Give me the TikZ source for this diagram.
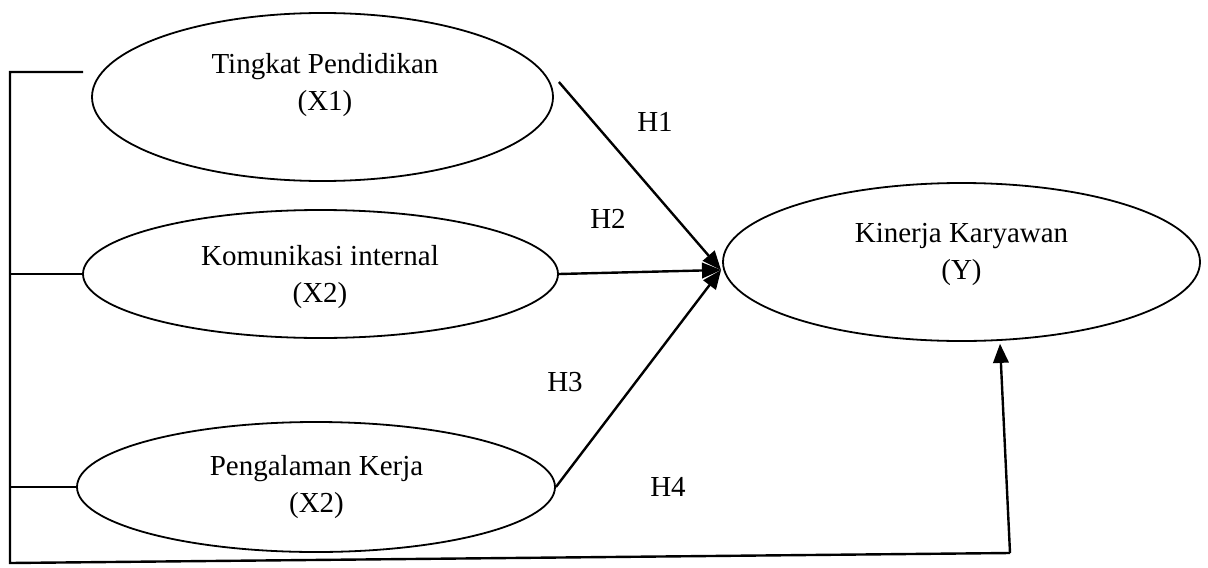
\documentclass[tikz,border=0pt]{standalone}
\usepackage{fontspec}
\setmainfont{Liberation Serif}
\usetikzlibrary{shapes.geometric}
\usetikzlibrary{arrows}

\begin{document}
\begin{tikzpicture}[x=0.5pt,y=-0.5pt,
    var/.style={draw,ellipse,line width=0.9pt,inner sep=0pt},
    txt/.style={align=center,font=\fontsize{14.5}{18.5}\selectfont},
    link/.style={line width=1.2pt},
    hyp/.style={link,-triangle 45}]
    \useasboundingbox (0,0) rectangle (1208,567);
    \node[var,minimum width=230.5pt,minimum height=84pt] (x1) at (322.5,97) {};
    \node[var,minimum width=237.5pt,minimum height=64pt] (x2) at (320.5,274) {};
    \node[var,minimum width=239pt,minimum height=65pt] (x3) at (316,487) {};
    \node[var,minimum width=238.5pt,minimum height=79pt] (y) at (961.5,262) {};
    \node[txt] (t1) at (325,85) {Tingkat Pendidikan\\(X1)};
    \node[txt] (t2) at (320,277) {Komunikasi internal\\(X2)};
    \node[txt] (t3) at (316.5,487) {Pengalaman Kerja\\(X2)};
    \node[txt] (ty) at (961.5,254) {Kinerja Karyawan\\(Y)};
    % left bracket and H4
    \coordinate (bartop) at (10,72);
    \coordinate (barbot) at (10,563);
    \coordinate (tick1) at (83,72);
    \coordinate (corner) at (1010,553);
    \coordinate (hub) at (721,270);
    \draw[link] (tick1) -- (bartop) -- (barbot) -- (corner);
    \draw[link] (bartop |- x2.west) -- (x2.west);
    \draw[link] (bartop |- x3.west) -- (x3.west);
    \draw[hyp] (corner) -- ([xshift=-5pt,yshift=-1pt]y.south -| corner);
    % paths to Y
    \draw[hyp] ([xshift=2.5pt,yshift=7.5pt]x1.east) -- (hub);
    \draw[hyp] (x2.east) -- (hub);
    \draw[hyp] (x3.east) -- (hub);
    \node[txt] (h1) at (655,122) {H1};
    \node[txt] (h2) at (608,219) {H2};
    \node[txt] (h3) at (565,382) {H3};
    \node[txt] (h4) at (668,487) {H4};
\end{tikzpicture}
\end{document}
